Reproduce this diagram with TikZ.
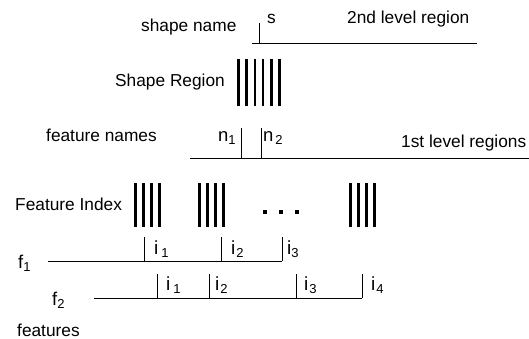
\documentclass[tikz,border=0pt]{standalone}
\usepackage{fontspec}
\setmainfont{Liberation Sans}
\newcommand{\sbx}[1]{\raisebox{-3pt}{\fontsize{13}{13}\selectfont #1}}
\begin{document}
\begin{tikzpicture}[x=1pt,y=-1pt,
  lbl/.style={anchor=base west,inner sep=0pt,font=\fontsize{17.3}{20}\selectfont},
  flbl/.style={anchor=base west,inner sep=0pt,font=\fontsize{18.5}{20}\selectfont},
  ilbl/.style={anchor=base west,inner sep=0pt,font=\fontsize{19}{20}\selectfont},
  thin line/.style={line width=0.9pt},
  bar/.style={line width=2.6pt},
  dotbox/.style={fill=black,minimum size=4pt,inner sep=0pt}]
\useasboundingbox (0,0) rectangle (529,339);
\fill[white] (0,0) rectangle (529,339);
% --- top: shape name / 2nd level region
\node[lbl] (shapename) at (141,32) {shape name};
\node[lbl] (s) at (267,24) {s};
\node[lbl] (second) at (347,24) {2nd level region};
\coordinate (t0) at (259,23); \coordinate (t0b) at (259,43);
\coordinate (h0a) at (252,43); \coordinate (h0b) at (477,43);
\draw[thin line] (t0) -- (t0b);
\draw[thin line] (h0a) -- (h0b);
% --- Shape Region bars
\node[lbl] (shaperegion) at (115,87) {Shape Region};
\foreach \x in {238.5,246.7,254.9,263.1,271.3,279.5}
  \draw[bar] (\x,59) -- (\x,106);
% --- feature names / 1st level regions
\node[lbl] (fnames) at (46,142) {feature names};
\node[flbl] (n1) at (218,142) {n\sbx{1}};
\node[flbl] (n2) at (263,142) {n\kern2pt\sbx{2}};
\node[lbl] (first) at (401,147) {1st level regions};
\coordinate (v1a) at (241,128); \coordinate (v1b) at (241,158);
\coordinate (v2a) at (261,128); \coordinate (v2b) at (261,158);
\coordinate (h1a) at (190,158); \coordinate (h1b) at (529,158);
\draw[thin line] (v1a) -- (v1b);
\draw[thin line] (v2a) -- (v2b);
\draw[thin line] (h1a) -- (h1b);
% --- Feature Index bars
\node[lbl] (findex) at (15,210) {Feature Index};
\foreach \x in {135.5,143.5,151.5,159.5, 199.5,207.5,215.5,223.5, 350.5,358.5,366.5,374.5}
  \draw[bar] (\x,183) -- (\x,227);
\node[dotbox] (d1) at (265,212) {};
\node[dotbox] (d2) at (281,212) {};
\node[dotbox] (d3) at (297,212) {};
% --- f1
\node[flbl] (f1) at (18,268) {f\sbx{1}};
\coordinate (f1a) at (48,261); \coordinate (f1b) at (282,261);
\draw[thin line] (f1a) -- (f1b);
\foreach \x in {144,221,282}
  \draw[thin line] (\x,237) -- (\x,261);
\node[ilbl] (a1) at (154,254) {i\kern3pt\sbx{1}};
\node[ilbl] (a2) at (231,254) {i\kern1pt\sbx{2}};
\node[ilbl] (a3) at (287,254) {i\sbx{3}};
% --- f2
\node[flbl] (f2) at (52,305) {f\sbx{2}};
\coordinate (f2a) at (94,298); \coordinate (f2b) at (362,298);
\draw[thin line] (f2a) -- (f2b);
\foreach \x in {157,209,296,362}
  \draw[thin line] (\x,274) -- (\x,298);
\node[ilbl] (b1) at (166,290) {i\kern3pt\sbx{1}};
\node[ilbl] (b2) at (215,290) {i\kern1pt\sbx{2}};
\node[ilbl] (b3) at (304,290) {i\kern1pt\sbx{3}};
\node[ilbl] (b4) at (371,290) {i\kern1pt\sbx{4}};
% --- features
\node[lbl] (features) at (17,336) {features};
\end{tikzpicture}
\end{document}
